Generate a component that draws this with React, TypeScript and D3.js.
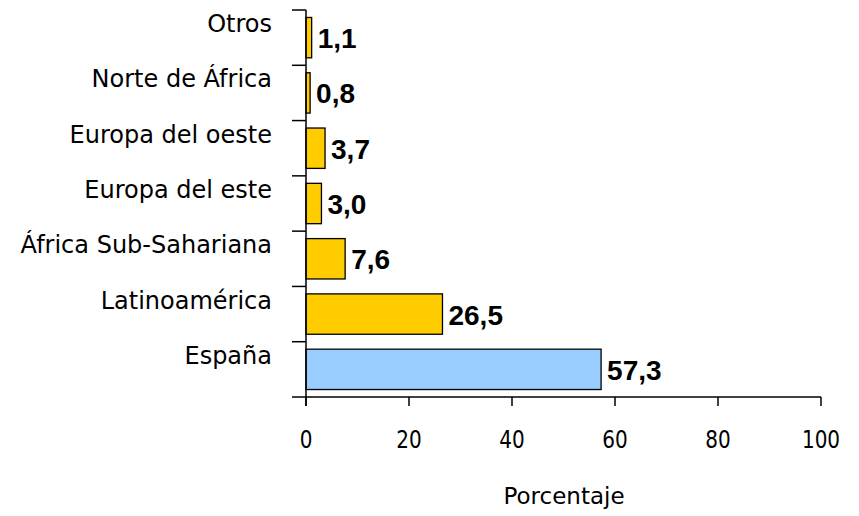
import * as d3 from 'd3';
import React, { useEffect, useRef } from 'react';

const categories = [
  'Otros',
  'Norte de África',
  'Europa del oeste',
  'Europa del este',
  'África Sub-Sahariana',
  'Latinoamérica',
  'España',
];
const values = [1.1, 0.8, 3.7, 3.0, 7.6, 26.5, 57.3];
const valueLabels = ['1,1', '0,8', '3,7', '3,0', '7,6', '26,5', '57,3'];
const xTicks = [0, 20, 40, 60, 80, 100];
const axisTitle = 'Porcentaje';

const width = 859;
const height = 516;
const labelFont = '"DejaVu Sans", sans-serif';

const BarChart = () => {
  const svgRef = useRef(null);

  const renderSvg = () => {
    const svg = d3.select(svgRef.current);
    svg.selectAll('*').remove();

    const left = 306;
    const right = 821;
    const top = 10;
    const bottom = 397;

    const xScale = d3.scaleLinear().domain([0, 100]).range([left, right]);
    const yScale = d3
      .scaleBand()
      .domain(categories)
      .range([top, bottom])
      .paddingInner(0.27)
      .paddingOuter(0.135);

    const step = yScale.step();
    const bandStart = (c: string) => yScale(c)! - yScale.paddingOuter() * step;

    // bars
    svg
      .append('g')
      .selectAll('rect')
      .data(categories)
      .enter()
      .append('rect')
      .attr('x', xScale(0))
      .attr('y', (d) => yScale(d)!)
      .attr('width', (d, i) => xScale(values[i]) - xScale(0))
      .attr('height', yScale.bandwidth())
      .style('fill', (d) => (d === 'España' ? '#99CCFF' : '#FFCC00'))
      .style('stroke', '#000')
      .style('stroke-width', 1.3);

    // y axis
    const g = svg.append('g').style('stroke', '#000').style('stroke-width', 1.5);
    g.append('line')
      .attr('x1', left)
      .attr('x2', left)
      .attr('y1', top)
      .attr('y2', bottom + 9);
    const boundaries = categories.map((c) => bandStart(c)).concat([bottom]);
    g.selectAll('.ytick')
      .data(boundaries)
      .enter()
      .append('line')
      .attr('x1', left - 14)
      .attr('x2', left)
      .attr('y1', (d) => d)
      .attr('y2', (d) => d);

    // x axis
    g.append('line')
      .attr('x1', left)
      .attr('x2', right)
      .attr('y1', bottom)
      .attr('y2', bottom);
    g.selectAll('.xtick')
      .data(xTicks)
      .enter()
      .append('line')
      .attr('x1', (d) => xScale(d))
      .attr('x2', (d) => xScale(d))
      .attr('y1', bottom)
      .attr('y2', bottom + 9);

    svg
      .append('g')
      .selectAll('text')
      .data(xTicks)
      .enter()
      .append('text')
      .attr('transform', (d) => `translate(${xScale(d)},447.5) scale(1,1.2)`)
      .attr('text-anchor', 'middle')
      .style('font-family', labelFont)
      .style('font-size', '20px')
      .style('fill', '#000')
      .text((d) => d);

    // category labels
    svg
      .append('g')
      .selectAll('text')
      .data(categories)
      .enter()
      .append('text')
      .attr('x', 272)
      .attr('y', (d) => yScale(d)! + yScale.bandwidth() / 2 - 5.5)
      .attr('text-anchor', 'end')
      .style('font-family', labelFont)
      .style('font-size', '24px')
      .style('fill', '#000')
      .text((d) => d);

    // value labels
    svg
      .append('g')
      .selectAll('text')
      .data(categories)
      .enter()
      .append('text')
      .attr('x', (d, i) => xScale(values[i]) + 6)
      .attr('y', (d) => yScale(d)! + yScale.bandwidth() / 2 + 10.5)
      .style('font-family', '"Liberation Sans", Arial, sans-serif')
      .style('font-weight', 'bold')
      .style('font-size', '28px')
      .style('fill', '#000')
      .text((d, i) => valueLabels[i]);

    svg
      .append('text')
      .attr('x', 564)
      .attr('y', 504)
      .attr('text-anchor', 'middle')
      .style('font-family', labelFont)
      .style('font-size', '23px')
      .style('fill', '#000')
      .text(axisTitle);
  };

  useEffect(() => {
    renderSvg();
  }, []);

  return (
    <svg
      ref={svgRef}
      width={width}
      height={height}
      style={{ position: 'absolute', left: 0, top: 0, background: '#fff' }}
    />
  );
};

export default function App() {
  return <BarChart />;
}
